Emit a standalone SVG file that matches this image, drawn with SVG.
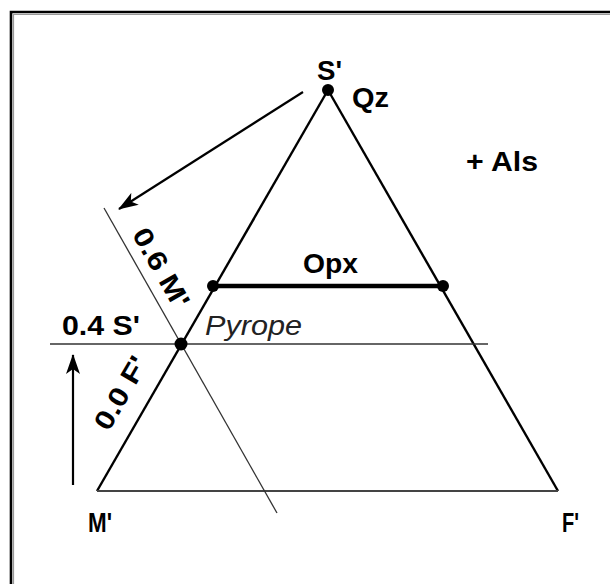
<svg xmlns="http://www.w3.org/2000/svg" width="610" height="584" viewBox="0 0 610 584">
<style>
.t{font-family:"Liberation Sans",Arial,sans-serif;font-size:27px;font-weight:bold;fill:#000;}
.it{font-family:"Liberation Sans",Arial,sans-serif;font-size:27px;font-style:italic;fill:#222;}
.edge{stroke:#000;stroke-width:2.4;fill:none;}
.thin{stroke:#333;stroke-width:1.3;fill:none;}
.dot{fill:#000;}
</style>
<defs>
<marker id="ah" viewBox="0 0 20 14" refX="19" refY="7" markerWidth="20" markerHeight="14" markerUnits="userSpaceOnUse" orient="auto">
<path d="M0,0 L20,7 L0,14 L5,7 Z" fill="#000"/>
</marker>
</defs>
<rect x="0" y="0" width="610" height="584" fill="#fff"/>
<g id="frame">
<path d="M11,584 L11,12 L610,12" stroke="#000" stroke-width="2.6" fill="none"/>
<path d="M13.5,584 L13.5,14.5 L610,14.5" stroke="#999" stroke-width="1.2" fill="none"/>
</g>
<g id="connectors">
<path class="edge" d="M328,90 L97,491"/>
<path class="edge" d="M328,90 L558,491"/>
<path d="M97,491 L558,491" stroke="#444" stroke-width="2.2" fill="none"/>
<path class="thin" d="M50,344 L488,344"/>
<path class="thin" d="M104,208 L277,513"/>
<path d="M213,286 L443,286" stroke="#000" stroke-width="4.5" fill="none"/>
<path d="M303,92 L119,209" stroke="#000" stroke-width="2.2" fill="none" marker-end="url(#ah)"/>
<path d="M73,485 L73,355" stroke="#000" stroke-width="2.2" fill="none" marker-end="url(#ah)"/>
</g>
<g id="node-S">
<circle class="dot" cx="328" cy="90" r="6"/>
<text class="t" x="317" y="80" textLength="25" lengthAdjust="spacingAndGlyphs">S'</text>
<text class="t" x="352" y="107" textLength="37" lengthAdjust="spacingAndGlyphs">Qz</text>
</g>
<g id="node-Als"><text class="t" x="466" y="171" textLength="72" lengthAdjust="spacingAndGlyphs">+ Als</text></g>
<g id="node-Opx">
<circle class="dot" cx="213" cy="286" r="6"/>
<circle class="dot" cx="443" cy="286" r="6"/>
<text class="t" x="303" y="273" textLength="55" lengthAdjust="spacingAndGlyphs">Opx</text>
</g>
<g id="node-Pyrope">
<circle class="dot" cx="181" cy="344" r="6.5"/>
<text class="it" x="205" y="335" textLength="97" lengthAdjust="spacingAndGlyphs">Pyrope</text>
</g>
<g id="node-04S"><text class="t" x="62" y="335" textLength="78" lengthAdjust="spacingAndGlyphs">0.4 S'</text></g>
<g id="node-06M"><text class="t" transform="translate(161,268) rotate(60.5)" x="-44" y="9" textLength="88" lengthAdjust="spacingAndGlyphs">0.6 M'</text></g>
<g id="node-00F"><text class="t" transform="translate(121,393) rotate(-60)" x="-40" y="9" textLength="80" lengthAdjust="spacingAndGlyphs">0.0 F'</text></g>
<g id="node-M"><text class="t" x="88" y="532" textLength="24" lengthAdjust="spacingAndGlyphs">M'</text></g>
<g id="node-F"><text class="t" x="562" y="532" textLength="17" lengthAdjust="spacingAndGlyphs">F'</text></g>
</svg>
